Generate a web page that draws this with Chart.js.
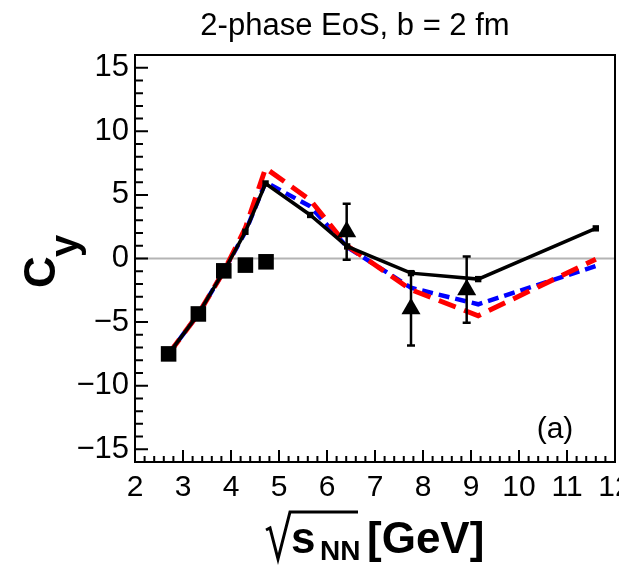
<!DOCTYPE html>
<html lang="en">
<head>
  <meta charset="UTF-8">
  <title>2-phase EoS, b = 2 fm</title>
  <script src="https://cdn.jsdelivr.net/npm/chart.js@4"></script>
  <style>
    * { margin: 0; padding: 0; box-sizing: border-box; }
    html, body { width: 619px; height: 566px; overflow: hidden; background: #fff; }
    canvas { display: block; }
  </style>
</head>
<body>
  <canvas id="chart" width="640" height="566"></canvas>
  <script>
    // model energies (sqrt(s_NN), GeV) and C_y for the three curves
    const xModel = [2.7, 3.32, 3.85, 4.3, 4.72, 5.65, 6.42, 7.75, 9.15, 11.6];
    const yBlack = [-7.5, -4.36, -1.0, 2.1, 5.9, 3.42, 0.95, -1.15, -1.62, 2.37];
    const yRed = [-7.5, -4.36, -1.0, 2.4, 7.1, 4.6, 1.0, -2.45, -4.5, -0.05];
    const yBlue = [-7.5, -4.36, -1.0, 2.1, 6.0, 4.1, 0.9, -2.3, -3.6, -0.6];

    // squares (AGS) and triangles with error bars
    const xSquares = [2.7, 3.32, 3.85, 4.3, 4.73];
    const ySquares = [-7.5, -4.36, -0.97, -0.52, -0.26];
    const xTriangles = [6.41, 7.75, 8.91];
    const yTriangles = [2.1, -3.95, -2.45];
    const errTriangles = [2.2, 2.9, 2.6];

    const xTickValues = [2, 3, 4, 5, 6, 7, 8, 9, 10, 11, 12];
    const yTickValues = [-15, -10, -5, 0, 5, 10, 15];

    const FONT = "'Liberation Sans', Arial, sans-serif";
    const pts = (xs, ys) => xs.map((x, i) => ({ x, y: ys[i] }));

    const rootFrame = {
      id: 'rootFrame',
      beforeDatasetsDraw(chart) {
        const { ctx, chartArea: a, scales: { y } } = chart;
        const y0 = y.getPixelForValue(0);
        ctx.save();
        ctx.strokeStyle = '#b4b4b4';
        ctx.lineWidth = 2;
        ctx.beginPath();
        ctx.moveTo(a.left, y0);
        ctx.lineTo(a.right, y0);
        ctx.stroke();
        ctx.restore();
      },
      afterDatasetsDraw(chart) {
        const { ctx, chartArea: a, scales: { x, y } } = chart;
        ctx.save();
        ctx.strokeStyle = '#000';
        ctx.fillStyle = '#000';

        // error bars on the triangles
        ctx.lineWidth = 2.5;
        xTriangles.forEach((xv, i) => {
          const px = x.getPixelForValue(xv);
          const top = y.getPixelForValue(yTriangles[i] + errTriangles[i]);
          const bot = y.getPixelForValue(yTriangles[i] - errTriangles[i]);
          ctx.beginPath();
          ctx.moveTo(px, top); ctx.lineTo(px, bot);
          ctx.moveTo(px - 4, top); ctx.lineTo(px + 4, top);
          ctx.moveTo(px - 4, bot); ctx.lineTo(px + 4, bot);
          ctx.stroke();
        });

        // frame
        ctx.lineWidth = 2;
        ctx.strokeRect(a.left, a.top, a.right - a.left, a.bottom - a.top);

        // inward ticks
        ctx.beginPath();
        for (let v = -16; v <= 16; v++) {
          const py = y.getPixelForValue(v);
          const len = v % 5 === 0 ? 13 : 8;
          ctx.moveTo(a.left, py); ctx.lineTo(a.left + len, py);
        }
        for (let k = 0; k <= 50; k++) {
          const v = 2 + k * 0.2;
          const px = x.getPixelForValue(v);
          const len = k % 5 === 0 ? 12 : 6;
          ctx.moveTo(px, a.bottom); ctx.lineTo(px, a.bottom - len);
        }
        ctx.stroke();

        // title and panel label
        ctx.textBaseline = 'alphabetic';
        ctx.textAlign = 'center';
        ctx.font = '31px ' + FONT;
        ctx.fillText('2-phase EoS, b = 2 fm', 355, 35);
        ctx.font = '30px ' + FONT;
        ctx.fillText('(a)', 555, 438);

        // x axis title: sqrt(s_NN) [GeV]
        ctx.lineWidth = 3;
        ctx.lineJoin = 'miter';
        ctx.beginPath();
        ctx.moveTo(266, 530);
        ctx.lineTo(270, 528);
        ctx.lineTo(278, 559);
        ctx.lineTo(290, 512);
        ctx.lineTo(358, 512);
        ctx.stroke();
        ctx.textAlign = 'left';
        ctx.font = 'bold 44px ' + FONT;
        ctx.fillText('s', 291, 553);
        ctx.font = 'bold 28px ' + FONT;
        ctx.fillText('NN', 320, 560);
        ctx.font = 'bold 44px ' + FONT;
        ctx.fillText('[GeV]', 367, 553);

        // y axis title: C_y
        ctx.translate(55, 288);
        ctx.rotate(-Math.PI / 2);
        ctx.font = 'bold 44px ' + FONT;
        ctx.fillText('C', 0, 0);
        ctx.font = 'bold 40px ' + FONT;
        ctx.fillText('y', 31, 23);
        ctx.restore();
      }
    };

    new Chart(document.getElementById('chart'), {
      type: 'scatter',
      data: {
        datasets: [
          {
            data: pts(xModel, yBlack), showLine: true,
            borderColor: '#000', borderWidth: 3.5,
            pointStyle: 'rect', pointRadius: 4.5, pointBorderWidth: 0,
            backgroundColor: '#000'
          },
          {
            data: pts(xTriangles, yTriangles), showLine: false,
            pointStyle: 'triangle', pointRadius: 11, pointBorderWidth: 0,
            backgroundColor: '#000', borderColor: '#000'
          },
          {
            data: pts(xSquares, ySquares), showLine: false,
            pointStyle: 'rect', pointRadius: 11, pointBorderWidth: 0,
            backgroundColor: '#000', borderColor: '#000'
          },
          {
            data: pts(xModel, yRed), showLine: true,
            borderColor: '#ff0000', borderWidth: 5, borderDash: [18, 9],
            pointRadius: 0
          },
          {
            data: pts(xModel, yBlue), showLine: true,
            borderColor: '#0000ff', borderWidth: 4.5, borderDash: [11, 6],
            pointRadius: 0
          }
        ]
      },
      options: {
        responsive: false,
        animation: false,
        events: [],
        layout: { padding: { top: 55, right: 25, left: 0, bottom: 0 } },
        plugins: { legend: { display: false }, tooltip: { enabled: false } },
        scales: {
          x: {
            type: 'linear', min: 2, max: 12,
            grid: { display: false, drawTicks: false },
            border: { display: false },
            afterBuildTicks: s => { s.ticks = xTickValues.map(v => ({ value: v })); },
            afterFit: s => { s.height = 104; s.paddingLeft = 0; s.paddingRight = 0; },
            ticks: {
              color: '#000', padding: 8, maxRotation: 0, autoSkip: false,
              font: { family: FONT, size: 30 }
            }
          },
          y: {
            type: 'linear', min: -16, max: 16,
            grid: { display: false, drawTicks: false },
            border: { display: false },
            afterBuildTicks: s => { s.ticks = yTickValues.map(v => ({ value: v })); },
            afterFit: s => { s.width = 135; s.paddingTop = 0; s.paddingBottom = 0; },
            ticks: {
              color: '#000', padding: 6, autoSkip: false,
              font: { family: FONT, size: 31 },
              callback: v => v < 0 ? '\u2212' + Math.abs(v) : String(v)
            }
          }
        }
      },
      plugins: [rootFrame]
    });
  </script>
</body>
</html>
